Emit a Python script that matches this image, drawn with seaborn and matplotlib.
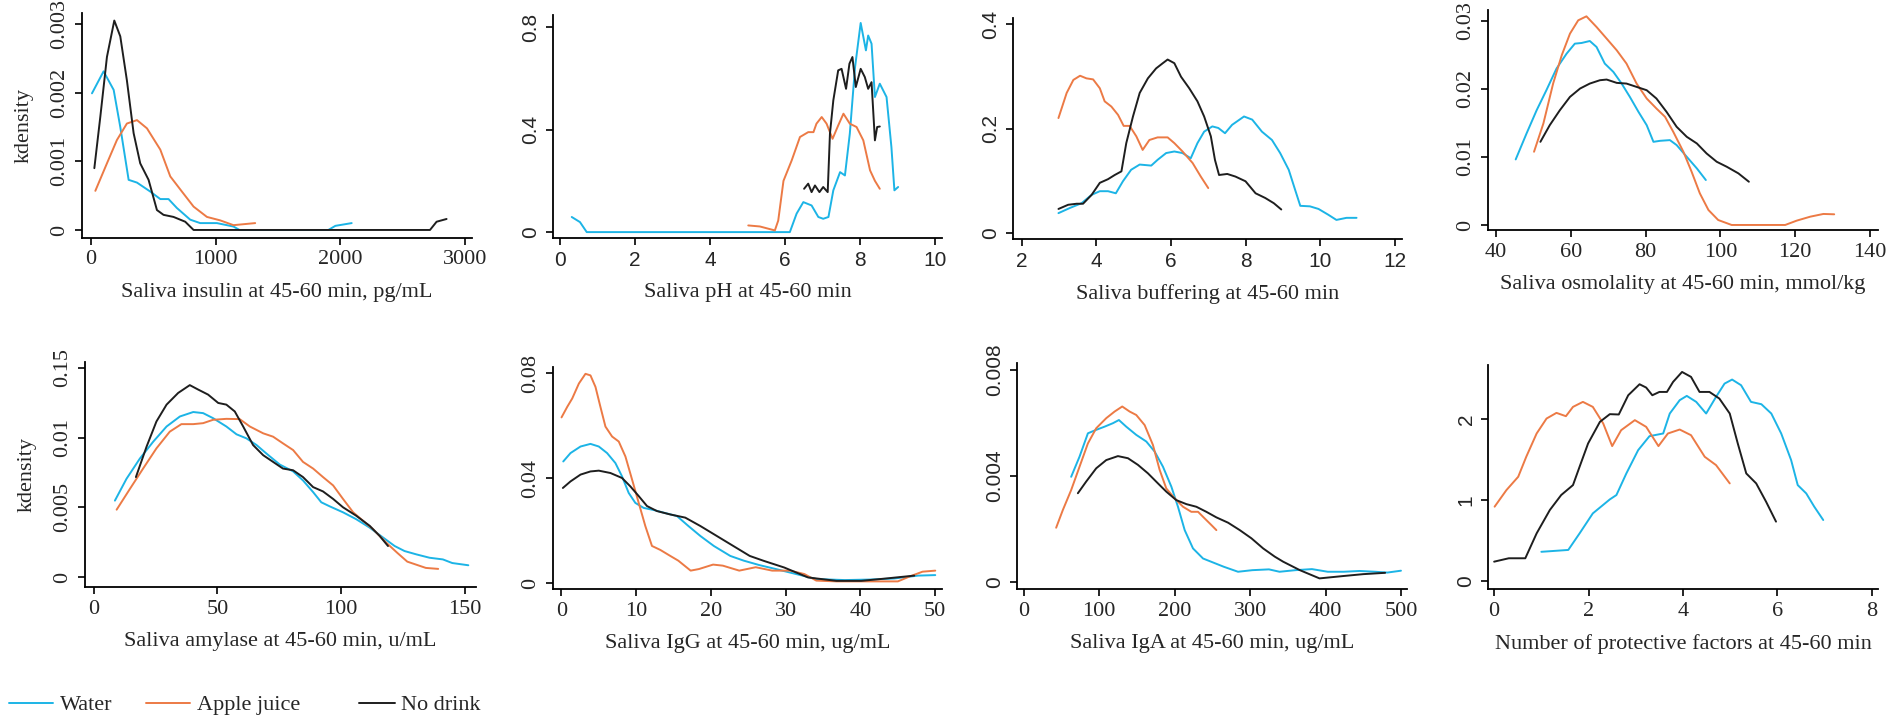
import matplotlib
matplotlib.use("Agg")
import matplotlib.pyplot as plt
import seaborn as sns
import pandas as pd
from matplotlib.lines import Line2D

sns.set_style("white")
plt.rcParams['font.family'] = ['Liberation Serif', 'DejaVu Serif']

groups = ['Water', 'Apple juice', 'No drink']
colors = {'Water': '#1cb4e6', 'Apple juice': '#ec7a45', 'No drink': '#1e1e1e'}

# ---- panel 1: saliva insulin ----
p1_water_x = [8, 101, 182, 235, 302, 369, 475, 556, 622, 689, 796, 876, 1010, 1143, 1191, 1500, 1904, 1960, 2091]
p1_water_y = [0.00199, 0.00231, 0.00204, 0.0015, 0.00073, 0.00069, 0.00056, 0.00045, 0.00045, 0.00032,
              0.00015, 0.0001, 0.0001, 0.00005, 0, 0, 0, 0.00006, 0.0001]
p1_apple_x = [35, 128, 208, 288, 369, 449, 556, 636, 729, 823, 930, 1036, 1143, 1317]
p1_apple_y = [0.00057, 0.00097, 0.00131, 0.00155, 0.0016, 0.00148, 0.00117, 0.00078, 0.00056, 0.00034,
              0.00019, 0.00014, 0.00007, 0.0001]
p1_none_x = [27, 75, 128, 187, 235, 288, 342, 395, 462, 529, 582, 662, 756, 823, 2719, 2772, 2852]
p1_none_y = [0.0009, 0.00165, 0.00252, 0.00305, 0.00282, 0.00218, 0.00141, 0.00097, 0.00073, 0.00029,
             0.00022, 0.00019, 0.00012, 0, 0, 0.00012, 0.00016]

# ---- panel 2: saliva pH ----
p2_water_x = [0.31, 0.53, 0.71, 6.13, 6.31, 6.49, 6.71, 6.89, 7.02, 7.16, 7.29, 7.47, 7.6, 7.73, 7.87, 8.02,
              8.16, 8.22, 8.31, 8.4, 8.53, 8.71, 8.84, 8.92, 9.02]
p2_water_y = [0.059, 0.039, 0, 0, 0.072, 0.117, 0.104, 0.059, 0.052, 0.059, 0.163, 0.234, 0.221, 0.384, 0.644,
              0.816, 0.709, 0.767, 0.735, 0.527, 0.579, 0.527, 0.332, 0.163, 0.176]
p2_apple_x = [5.02, 5.33, 5.73, 5.82, 5.96, 6.18, 6.4, 6.62, 6.76, 6.84, 6.98, 7.11, 7.27, 7.42, 7.56, 7.73,
              7.91, 8.09, 8.27, 8.4, 8.53]
p2_apple_y = [0.026, 0.022, 0.0065, 0.045, 0.2, 0.28, 0.371, 0.39, 0.39, 0.423, 0.449, 0.423, 0.364, 0.416,
              0.462, 0.423, 0.41, 0.358, 0.241, 0.2, 0.169]
p2_none_x = [6.51, 6.62, 6.71, 6.8, 6.92, 7.02, 7.14, 7.2, 7.29, 7.42, 7.51, 7.63, 7.72, 7.8, 7.89, 8.02,
             8.13, 8.22, 8.31, 8.4, 8.46, 8.53]
p2_none_y = [0.169, 0.189, 0.156, 0.182, 0.156, 0.176, 0.156, 0.384, 0.514, 0.631, 0.637, 0.559, 0.657, 0.683,
             0.566, 0.637, 0.605, 0.559, 0.585, 0.358, 0.41, 0.412]

# ---- panel 3: saliva buffering ----
p3_water_x = [2.98, 3.29, 3.6, 3.87, 4.09, 4.31, 4.52, 4.71, 4.93, 5.16, 5.47, 5.64, 5.87, 6.09, 6.31, 6.53,
              6.71, 6.89, 7.11, 7.27, 7.45, 7.64, 7.96, 8.18, 8.44, 8.71, 8.93, 9.16, 9.33, 9.47, 9.73, 9.96,
              10.22, 10.44, 10.71, 10.98]
p3_water_y = [0.038, 0.048, 0.057, 0.073, 0.08, 0.08, 0.076, 0.099, 0.121, 0.131, 0.129, 0.14, 0.153, 0.156,
              0.153, 0.143, 0.172, 0.194, 0.204, 0.201, 0.191, 0.207, 0.223, 0.217, 0.194, 0.178, 0.153, 0.121,
              0.083, 0.052, 0.051, 0.046, 0.035, 0.025, 0.029, 0.029]
p3_apple_x = [2.98, 3.2, 3.38, 3.56, 3.73, 3.91, 4.09, 4.22, 4.4, 4.58, 4.73, 4.89, 5.07, 5.24, 5.42, 5.64,
              5.91, 6.09, 6.31, 6.58, 6.8, 7.0]
p3_apple_y = [0.22, 0.268, 0.293, 0.301, 0.296, 0.294, 0.277, 0.252, 0.242, 0.226, 0.205, 0.205, 0.185, 0.159,
              0.178, 0.183, 0.183, 0.172, 0.156, 0.134, 0.108, 0.086]
p3_none_x = [2.98, 3.24, 3.47, 3.64, 3.87, 4.09, 4.31, 4.49, 4.67, 4.8, 4.98, 5.16, 5.38, 5.6, 5.78, 5.91,
             6.09, 6.27, 6.49, 6.71, 6.89, 7.07, 7.18, 7.29, 7.51, 7.73, 8.0, 8.27, 8.53, 8.76, 8.96]
p3_none_y = [0.046, 0.054, 0.056, 0.056, 0.073, 0.096, 0.103, 0.111, 0.118, 0.172, 0.223, 0.268, 0.296, 0.315,
             0.325, 0.332, 0.325, 0.299, 0.277, 0.252, 0.223, 0.185, 0.14, 0.111, 0.113, 0.108, 0.099, 0.076,
             0.067, 0.057, 0.045]

# ---- panel 4: saliva osmolality ----
p4_water_x = [45.3, 48.2, 50.9, 53.5, 56.2, 58.9, 61.1, 62.9, 65.1, 66.9, 69.1, 71.4, 73.6, 75.8, 78.1, 80.3,
              82.1, 83.9, 86.5, 88.3, 91.0, 93.7, 96.1]
p4_water_y = [0.00964, 0.01346, 0.01688, 0.01982, 0.023, 0.0252, 0.02667, 0.02677, 0.02706, 0.02618, 0.02374,
              0.02251, 0.0208, 0.01884, 0.01664, 0.01468, 0.01223, 0.01238, 0.01248, 0.01175, 0.01003, 0.00832,
              0.00661]
p4_apple_x = [50.2, 52.7, 55.3, 57.6, 59.8, 62.0, 64.2, 66.9, 69.6, 72.3, 74.9, 77.6, 80.3, 82.9, 85.2, 87.4,
              90.1, 92.3, 94.5, 96.8, 99.4, 103.0, 117.3, 120.4, 124.0, 127.5, 130.4]
p4_apple_y = [0.01077, 0.01493, 0.0208, 0.02496, 0.02814, 0.0301, 0.03069, 0.02912, 0.02741, 0.02569, 0.02374,
              0.0208, 0.0186, 0.01713, 0.01591, 0.0137, 0.01077, 0.00783, 0.00465, 0.0022, 0.00073, 0, 0,
              0.00064, 0.00122, 0.00162, 0.00157]
p4_none_x = [51.9, 54.4, 57.1, 59.8, 62.5, 65.1, 67.8, 69.6, 72.3, 74.9, 77.6, 80.3, 82.9, 85.6, 88.3, 91.0,
             93.7, 96.3, 99.0, 101.7, 104.8, 107.6]
p4_none_y = [0.01223, 0.01468, 0.01688, 0.01884, 0.02007, 0.0208, 0.02129, 0.02139, 0.0209, 0.0208, 0.02031,
             0.01982, 0.0186, 0.01664, 0.01444, 0.01297, 0.01199, 0.01052, 0.0093, 0.00856, 0.00759, 0.00636]

# ---- panel 5: saliva amylase ----
p5_water_x = [8.5, 13.2, 18.6, 24.0, 29.4, 34.8, 40.2, 44.2, 48.2, 53.6, 57.7, 61.7, 65.8, 69.8, 75.2, 80.6,
              84.6, 88.7, 92.0, 95.4, 100.8, 106.1, 111.5, 117.0, 121.7, 125.7, 130.5, 135.8, 141.2, 145.0, 151.5]
p5_water_y = [0.00548, 0.00705, 0.0085, 0.00971, 0.0108, 0.01152, 0.01184, 0.01176, 0.0114, 0.0108, 0.01024,
              0.00995, 0.00947, 0.00886, 0.00807, 0.00758, 0.00693, 0.00609, 0.00536, 0.00507, 0.00464, 0.00415,
              0.00355, 0.00283, 0.00222, 0.00186, 0.00162, 0.00138, 0.00126, 0.001, 0.00084]
p5_apple_x = [9.2, 14.6, 19.9, 25.3, 30.7, 35.4, 40.2, 44.2, 48.2, 53.6, 59.0, 63.1, 68.5, 72.5, 76.5, 80.6,
              84.6, 88.7, 92.7, 96.8, 100.8, 104.9, 108.9, 112.9, 118.3, 122.7, 126.8, 134.3, 139.3]
p5_apple_y = [0.00483, 0.00633, 0.00778, 0.00923, 0.01043, 0.01097, 0.01097, 0.01104, 0.01128, 0.01135, 0.01133,
              0.0108, 0.01031, 0.01007, 0.00959, 0.00911, 0.00826, 0.00778, 0.00717, 0.00657, 0.0056, 0.00464,
              0.00403, 0.00343, 0.00246, 0.00174, 0.0011, 0.00065, 0.00058]
p5_none_x = [17.0, 21.3, 25.3, 29.4, 34.1, 38.8, 42.2, 46.2, 50.3, 53.6, 57.0, 60.4, 64.4, 68.5, 72.5, 76.5,
             80.6, 84.6, 88.7, 92.7, 96.8, 100.8, 106.1, 111.6, 115.6, 119.0]
p5_none_y = [0.00717, 0.00935, 0.01116, 0.01237, 0.01321, 0.01377, 0.01345, 0.01309, 0.01249, 0.01237, 0.01188,
             0.0108, 0.00947, 0.00874, 0.00826, 0.00778, 0.00766, 0.00717, 0.00645, 0.00614, 0.0056, 0.005,
             0.0044, 0.00367, 0.00295, 0.00222]

# ---- panel 6: saliva IgG ----
p6_water_x = [0.27, 1.24, 2.58, 3.91, 5.02, 6.13, 7.24, 8.13, 9.02, 9.91, 11.02, 12.36, 13.69, 15.47, 17.0,
              18.6, 20.4, 22.6, 24.4, 26.5, 28.7, 31.4, 34.1, 37.9, 41.2, 44.5, 47.7, 50.0]
p6_water_y = [0.0463, 0.0495, 0.052, 0.053, 0.052, 0.0495, 0.0457, 0.0406, 0.0343, 0.0305, 0.0286, 0.0278,
              0.0268, 0.0255, 0.0217, 0.0179, 0.0141, 0.0103, 0.0085, 0.0068, 0.0053, 0.0034, 0.0015, 0.0011,
              0.0013, 0.0017, 0.0028, 0.003]
p6_apple_x = [0.04, 0.8, 1.47, 2.36, 3.24, 3.91, 4.58, 5.24, 5.91, 6.8, 7.69, 8.58, 9.47, 10.36, 11.24, 12.13,
              13.24, 14.58, 15.65, 17.3, 18.4, 20.3, 21.6, 23.8, 26.0, 28.2, 30.6, 32.5, 34.1, 36.8, 41.2, 45.0,
              46.6, 48.3, 50.0]
p6_apple_y = [0.0631, 0.0671, 0.0703, 0.076, 0.0797, 0.0791, 0.0747, 0.0671, 0.0596, 0.0558, 0.0539, 0.0482,
              0.0394, 0.0305, 0.0217, 0.0141, 0.0126, 0.0103, 0.0085, 0.0047, 0.0053, 0.007, 0.0066, 0.0047,
              0.006, 0.0047, 0.0047, 0.0034, 0.0009, 0.0006, 0.0006, 0.0006, 0.0025, 0.0043, 0.0047]
p6_none_x = [0.22, 1.24, 2.58, 3.91, 5.02, 6.58, 8.13, 9.24, 10.36, 11.47, 12.8, 14.58, 16.58, 18.6, 20.8,
             23.0, 25.2, 27.1, 29.8, 33.0, 36.8, 40.1, 43.4, 47.2]
p6_none_y = [0.0362, 0.0387, 0.0413, 0.0425, 0.0428, 0.0419, 0.04, 0.0368, 0.0331, 0.0293, 0.0274, 0.0261,
             0.0249, 0.0217, 0.0179, 0.0141, 0.0103, 0.0084, 0.0059, 0.0021, 0.0008, 0.0008, 0.0017, 0.0028]

# ---- panel 7: saliva IgA ----
p7_water_x = [62.8, 73.9, 85.0, 96.0, 107.1, 118.1, 126.1, 135.8, 149.1, 162.4, 173.5, 184.5, 195.6, 204.4,
              213.3, 224.3, 237.6, 265, 284, 303, 325, 339, 360, 382, 403, 424, 445, 466, 482, 500]
p7_water_y = [0.00397, 0.00473, 0.00561, 0.00574, 0.00586, 0.00599, 0.00611, 0.00586, 0.00555, 0.0053, 0.00492,
              0.00435, 0.0036, 0.00284, 0.00196, 0.00127, 0.00089, 0.00058, 0.00039, 0.00045, 0.00048, 0.00039,
              0.00045, 0.00049, 0.00039, 0.00039, 0.00042, 0.00039, 0.00036, 0.00043]
p7_apple_x = [42.9, 51.8, 62.8, 73.9, 85.0, 96.0, 109.3, 120.4, 130.5, 140.3, 149.1, 160.2, 171.2, 180.1,
              188.9, 200.0, 211.1, 222.1, 231.0, 239.8, 248.7, 255.3]
p7_apple_y = [0.00205, 0.00272, 0.00347, 0.00435, 0.00523, 0.0058, 0.00618, 0.00643, 0.00662, 0.00643, 0.0063,
              0.00592, 0.00517, 0.00423, 0.00353, 0.00316, 0.00284, 0.00265, 0.00265, 0.0024, 0.00215, 0.00196]
p7_none_x = [71.7, 82.7, 96.0, 109.3, 124.8, 138.1, 151.3, 164.6, 177.9, 188.9, 202.2, 215.5, 228.8, 242.0,
             255.3, 270.8, 286.3, 301.8, 317.3, 332.7, 343.8, 366, 392, 424, 450, 479]
p7_none_y = [0.00335, 0.00379, 0.00429, 0.0046, 0.00475, 0.00467, 0.00442, 0.0041, 0.00372, 0.00341, 0.00309,
             0.00294, 0.00284, 0.00265, 0.00244, 0.00224, 0.00196, 0.00165, 0.00127, 0.00096, 0.00077, 0.00045,
             0.00014, 0.00023, 0.0003, 0.00035]

# ---- panel 8: number of protective factors ----
p8_water_x = [1.0, 1.57, 1.81, 2.09, 2.45, 2.59, 2.8, 3.05, 3.29, 3.58, 3.72, 3.93, 4.08, 4.28, 4.49, 4.7,
              4.88, 5.04, 5.23, 5.44, 5.66, 5.87, 6.08, 6.29, 6.43, 6.61, 6.78, 6.97]
p8_water_y = [0.36, 0.383, 0.588, 0.835, 1.008, 1.062, 1.329, 1.617, 1.79, 1.823, 2.07, 2.235, 2.288, 2.214,
              2.07, 2.276, 2.44, 2.49, 2.42, 2.214, 2.185, 2.07, 1.823, 1.494, 1.185, 1.082, 0.918, 0.753]
p8_apple_x = [0.01, 0.26, 0.51, 0.68, 0.9, 1.11, 1.32, 1.52, 1.67, 1.88, 2.09, 2.31, 2.5, 2.69, 2.98, 3.22,
              3.48, 3.68, 3.93, 4.17, 4.46, 4.7, 4.99]
p8_apple_y = [0.918, 1.123, 1.288, 1.535, 1.823, 2.008, 2.078, 2.037, 2.152, 2.214, 2.152, 1.947, 1.667, 1.864,
              1.988, 1.905, 1.667, 1.823, 1.872, 1.802, 1.535, 1.432, 1.206]
p8_none_x = [0.0, 0.31, 0.66, 0.9, 1.18, 1.42, 1.67, 1.81, 1.99, 2.24, 2.45, 2.64, 2.84, 3.08, 3.22, 3.35,
             3.5, 3.66, 3.79, 3.98, 4.17, 4.35, 4.56, 4.77, 4.99, 5.16, 5.34, 5.55, 5.76, 5.97]
p8_none_y = [0.238, 0.28, 0.28, 0.588, 0.877, 1.062, 1.185, 1.412, 1.7, 1.967, 2.062, 2.058, 2.296, 2.432,
             2.391, 2.296, 2.337, 2.337, 2.461, 2.584, 2.523, 2.337, 2.337, 2.255, 2.07, 1.7, 1.329, 1.206,
             0.979, 0.733]

xlabels = ['Saliva insulin at 45-60 min, pg/mL', 'Saliva pH at 45-60 min', 'Saliva buffering at 45-60 min',
           'Saliva osmolality at 45-60 min, mmol/kg', 'Saliva amylase at 45-60 min, u/mL',
           'Saliva IgG at 45-60 min, ug/mL', 'Saliva IgA at 45-60 min, ug/mL',
           'Number of protective factors at 45-60 min']
xticks = [[0, 1000, 2000, 3000], [0, 2, 4, 6, 8, 10], [2, 4, 6, 8, 10, 12], [40, 60, 80, 100, 120, 140],
          [0, 50, 100, 150], [0, 10, 20, 30, 40, 50], [0, 100, 200, 300, 400, 500], [0, 2, 4, 6, 8]]
yticks = [[0, 0.001, 0.002, 0.003], [0, 0.4, 0.8], [0, 0.2, 0.4], [0, 0.01, 0.02, 0.03],
          [0, 0.005, 0.01, 0.015], [0, 0.04, 0.08], [0, 0.004, 0.008], [0, 1, 2]]
ytick_labels = [['0', '0.001', '0.002', '0.003'], ['0', '0.4', '0.8'], ['0', '0.2', '0.4'],
                ['0', '0.01', '0.02', '0.03'], ['0', '0.005', '0.01', '0.15'], ['0', '0.04', '0.08'],
                ['0', '0.004', '0.008'], ['0', '1', '2']]

panels = [
    (p1_water_x, p1_water_y, p1_apple_x, p1_apple_y, p1_none_x, p1_none_y),
    (p2_water_x, p2_water_y, p2_apple_x, p2_apple_y, p2_none_x, p2_none_y),
    (p3_water_x, p3_water_y, p3_apple_x, p3_apple_y, p3_none_x, p3_none_y),
    (p4_water_x, p4_water_y, p4_apple_x, p4_apple_y, p4_none_x, p4_none_y),
    (p5_water_x, p5_water_y, p5_apple_x, p5_apple_y, p5_none_x, p5_none_y),
    (p6_water_x, p6_water_y, p6_apple_x, p6_apple_y, p6_none_x, p6_none_y),
    (p7_water_x, p7_water_y, p7_apple_x, p7_apple_y, p7_none_x, p7_none_y),
    (p8_water_x, p8_water_y, p8_apple_x, p8_apple_y, p8_none_x, p8_none_y),
]

# axes boxes in pixels (left, right, top, bottom) and limits
W, H = 1901, 722
boxes = [(82, 472, 13, 238), (553, 942, 15, 238), (1013, 1402, 18, 239), (1488, 1878, 10, 230),
         (85, 476, 362, 587), (553, 942, 367, 589), (1017, 1407, 363, 589), (1488, 1878, 365, 589)]
xlims = [(-72, 3056), (-0.19, 10.19), (1.76, 12.2), (37.9, 142.1),
         (-3.6, 154.6), (-1.1, 50.9), (-9, 508), (-0.13, 8.13)]
ylims = [(-0.000117, 0.00316), (-0.023, 0.847), (-0.0115, 0.4115), (-0.00074, 0.03162),
         (-0.00072, 0.01543), (-0.0023, 0.0823), (-0.00026, 0.00826), (-0.1, 2.67)]
# tick label font per panel (x, y): some panels use a sans face
sans_ticks = [(False, False), (True, True), (True, True), (False, False),
              (False, False), (False, False), (False, True), (False, True)]

fig = plt.figure(figsize=(W / 100, H / 100), dpi=100)

for i, (wx, wy, ax_, ay, nx, ny) in enumerate(panels):
    l, r, t, b = boxes[i]
    ax = fig.add_axes([l / W, 1 - b / H, (r - l) / W, (b - t) / H])
    df = pd.concat([
        pd.DataFrame({'x': wx, 'y': wy, 'group': 'Water'}),
        pd.DataFrame({'x': ax_, 'y': ay, 'group': 'Apple juice'}),
        pd.DataFrame({'x': nx, 'y': ny, 'group': 'No drink'}),
    ])
    sns.lineplot(data=df, x='x', y='y', hue='group', hue_order=groups, palette=colors,
                 estimator=None, sort=False, linewidth=1.4, legend=False, ax=ax)
    ax.set_xlim(*xlims[i])
    ax.set_ylim(*ylims[i])
    ax.set_xticks(xticks[i])
    ax.set_yticks(yticks[i])
    ax.set_yticklabels(ytick_labels[i])
    for s in ['top', 'right']:
        ax.spines[s].set_visible(False)
    for s in ['left', 'bottom']:
        ax.spines[s].set_color('black')
        ax.spines[s].set_linewidth(1.3)
    ax.tick_params(axis='both', direction='out', length=5, width=1.2, color='black',
                   labelsize=16, pad=4, bottom=True, left=True)
    xs, ys = sans_ticks[i]
    for lab in ax.get_xticklabels():
        lab.set_family('Liberation Sans' if xs else 'Liberation Serif')
        lab.set_fontsize(15 if xs else 16)
    for lab in ax.get_yticklabels():
        lab.set_family('Liberation Sans' if ys else 'Liberation Serif')
        lab.set_fontsize(15 if ys else 16)
        lab.set_rotation(90)
        lab.set_va('center')
    ax.set_xlabel(xlabels[i], fontsize=16, labelpad=10)
    if i in (0, 4):
        ax.set_ylabel('kdensity', fontsize=16, labelpad=12)
    else:
        ax.set_ylabel('')
    ax.grid(False)

# legend entries placed at the reference's x positions (pixels)
legend_x = [9, 146, 359]
legend_len = [2.0, 2.0, 1.6]
for g, lx, hl in zip(groups, legend_x, legend_len):
    fig.legend([Line2D([0], [0], color=colors[g], linewidth=1.4)], [g], loc='center left',
               bbox_to_anchor=(lx / W, 1 - 705 / H), frameon=False, fontsize=16,
               handlelength=hl, handletextpad=0.3, borderpad=0, borderaxespad=0)

fig.savefig('out.png', dpi=100, facecolor='white')
